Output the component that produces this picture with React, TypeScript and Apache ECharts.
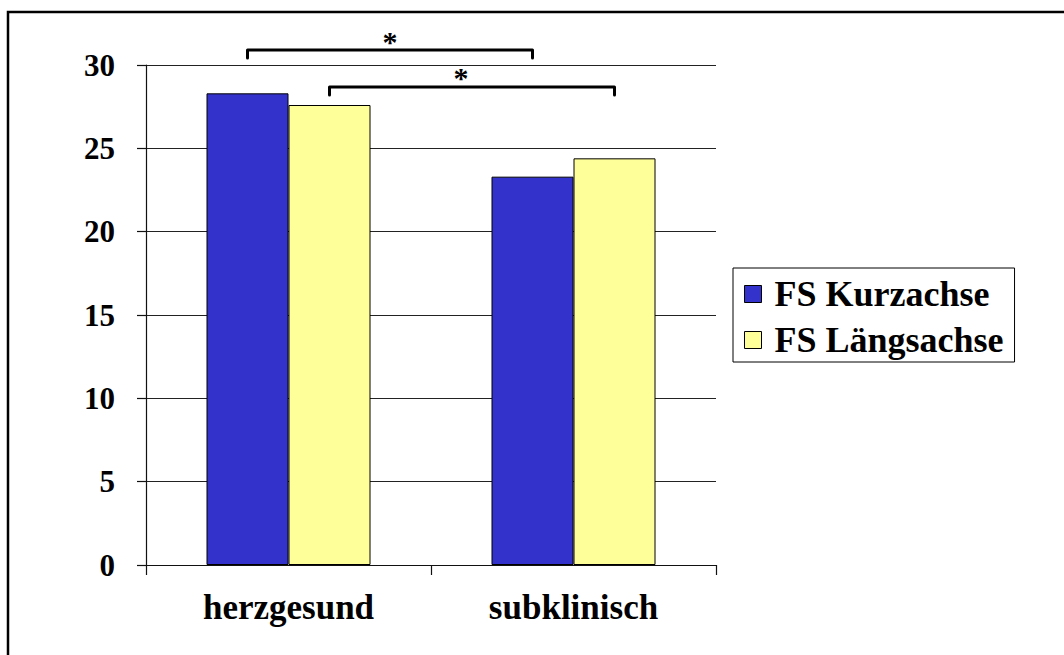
import React, { useEffect, useRef } from "react";
import * as echarts from "echarts";

const categories = ["herzgesund", "subklinisch"];
const seriesNames = ["FS Kurzachse", "FS Längsachse"];
const kurzachse = [28.3, 23.3];
const laengsachse = [27.6, 24.4];
const yTicks = [0, 5, 10, 15, 20, 25, 30];
const colors = ["#3333CC", "#FFFF99"];

const FONT = "Liberation Serif";

export default function App() {
  const ref = useRef<HTMLDivElement>(null);
  useEffect(() => {
    if (!ref.current) return;
    const chart = echarts.init(ref.current, undefined, { renderer: "svg" });
    const BAR_W = 82;
    chart.setOption({
      animation: false,
      backgroundColor: "#ffffff",
      textStyle: { fontFamily: FONT },
      grid: { left: 146, right: 348, top: 65, bottom: 90, containLabel: false },
      legend: {
        orient: "vertical",
        left: 733,
        top: 268,
        padding: [6, 11, 2, 11],
        itemGap: 6,
        itemWidth: 17,
        itemHeight: 17,
        icon: "rect",
        borderColor: "#000",
        borderWidth: 1,
        data: seriesNames,
        textStyle: {
          fontFamily: FONT,
          fontWeight: "bold",
          fontSize: 36,
          color: "#000",
          lineHeight: 40,
          padding: [0, 0, 0, 8],
        },
        itemStyle: { borderColor: "#000", borderWidth: 1 },
      },
      xAxis: {
        type: "category",
        data: categories,
        axisLine: { lineStyle: { color: "#111", width: 1.2 } },
        axisTick: { show: true, length: 10, lineStyle: { color: "#111", width: 1.2 } },
        axisLabel: {
          fontFamily: FONT,
          fontWeight: "bold",
          fontSize: 35,
          color: "#000",
          margin: 25,
        },
      },
      yAxis: {
        type: "value",
        min: yTicks[0],
        max: yTicks[yTicks.length - 1],
        interval: 5,
        axisLine: { show: true, lineStyle: { color: "#111", width: 1.2 } },
        axisTick: { show: true, length: 9, lineStyle: { color: "#111", width: 1.2 } },
        splitLine: { show: true, lineStyle: { color: "#222", width: 1.2 } },
        axisLabel: {
          fontFamily: FONT,
          fontWeight: "bold",
          fontSize: 31,
          color: "#000",
          margin: 31,
        },
      },
      series: [
        {
          name: seriesNames[0],
          type: "bar",
          data: kurzachse,
          barWidth: BAR_W,
          barGap: "0%",
          itemStyle: { color: colors[0], borderColor: "#000", borderWidth: 1 },
        },
        {
          name: seriesNames[1],
          type: "bar",
          data: laengsachse,
          barWidth: BAR_W,
          barGap: "0%",
          itemStyle: { color: colors[1], borderColor: "#000", borderWidth: 1 },
        },
      ],
    });

    const cx = (c: string) => chart.convertToPixel({ xAxisIndex: 0 }, c) as number;
    const h = BAR_W / 2;
    const a1 = cx(categories[0]) - h;
    const b1 = cx(categories[1]) - h;
    const a2 = cx(categories[0]) + h;
    const b2 = cx(categories[1]) + h;
    const y1 = 50;
    const y2 = 87;
    const bracket = (xa: number, xb: number, y: number) => ({
      type: "polyline",
      shape: { points: [[xa, y + 8], [xa, y], [xb, y], [xb, y + 8]] },
      style: { stroke: "#000", lineWidth: 3, fill: null, lineJoin: "round", lineCap: "round" },
      silent: true,
    });
    const star = (x: number, y: number) => ({
      type: "text",
      x,
      y,
      style: {
        text: "*",
        fontFamily: FONT,
        fontWeight: "bold",
        fontSize: 30,
        fill: "#000",
        align: "center",
        verticalAlign: "middle",
      },
      silent: true,
    });
    chart.setOption({
      graphic: [
        {
          type: "rect",
          shape: { x: 8, y: 12, width: 1100, height: 700 },
          style: { fill: null, stroke: "#000", lineWidth: 2.5 },
          silent: true,
        },
        bracket(a1, b1, y1),
        bracket(a2, b2, y2),
        star((a1 + b1) / 2, 41),
        star((a2 + b2) / 2 - 11, 77),
      ],
    });
    return () => chart.dispose();
  }, []);
  return (
    <div
      ref={ref}
      style={{ position: "absolute", left: 0, top: 0, width: 1064, height: 655 }}
    />
  );
}
